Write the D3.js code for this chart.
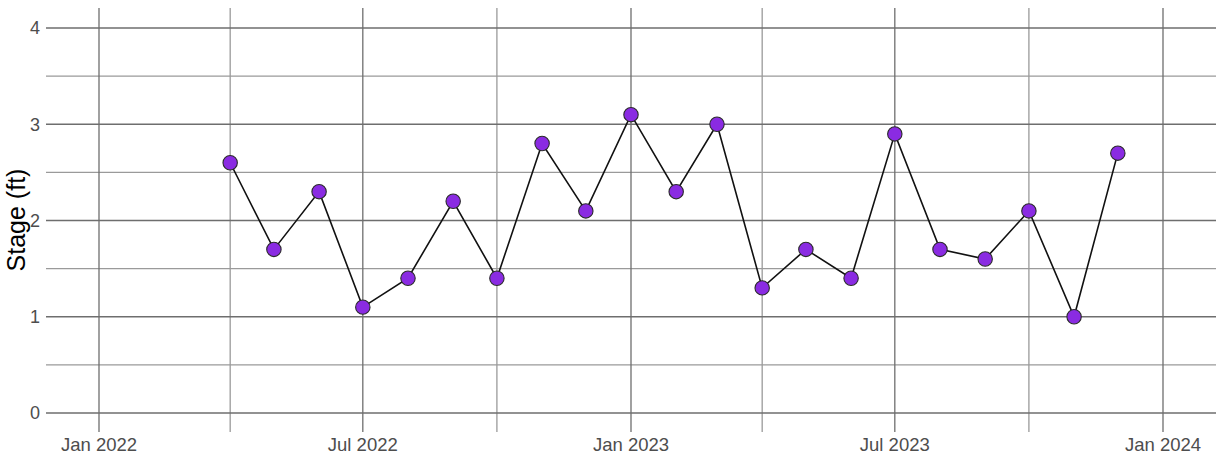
<!DOCTYPE html>
<html>
<head>
<meta charset="utf-8">
<script src="https://cdn.jsdelivr.net/npm/d3@7"></script>
<style>
html,body{margin:0;padding:0;background:#fff;}
svg{display:block;font-family:"Liberation Sans",Arial,sans-serif;}
</style>
</head>
<body>
<svg id="chart" width="1225" height="458"></svg>
<script>
// Data
const dates = ["2022-04-01","2022-05-01","2022-06-01","2022-07-01","2022-08-01","2022-09-01","2022-10-01",
  "2022-11-01","2022-12-01","2023-01-01","2023-02-01","2023-03-01","2023-04-01","2023-05-01","2023-06-01",
  "2023-07-01","2023-08-01","2023-09-01","2023-10-01","2023-11-01","2023-12-01"];
const stage = [2.6,1.7,2.3,1.1,1.4,2.2,1.4,2.8,2.1,3.1,2.3,3.0,1.3,1.7,1.4,2.9,1.7,1.6,2.1,1.0,2.7];
const yTicks = [0,1,2,3,4];
const yMinor = [0.5,1.5,2.5,3.5];
const xMajor = ["2022-01-01","2022-07-01","2023-01-01","2023-07-01","2024-01-01"];
const xMajorLabels = ["Jan 2022","Jul 2022","Jan 2023","Jul 2023","Jan 2024"];
const xMinor = ["2022-04-01","2022-10-01","2023-04-01","2023-10-01"];
const yTitle = "Stage (ft)";

const parse = d3.utcParse("%Y-%m-%d");
const data = dates.map((d,i)=>({date:parse(d), v:stage[i]}));

const svg = d3.select("#chart");
const panel = {left:46, right:1216, top:8, bottom:432};

const x = d3.scaleUtc()
  .domain([parse("2022-01-01"), parse("2024-01-01")])
  .range([99, 1163]);
const y = d3.scaleLinear().domain([0,4]).range([413,28]);

const g = svg.append("g");

// minor horizontal grid
g.selectAll(".hminor").data(yMinor).enter().append("line")
  .attr("x1",panel.left).attr("x2",panel.right)
  .attr("y1",d=>y(d)).attr("y2",d=>y(d))
  .attr("stroke","#9a9a9a").attr("stroke-width",1.3);
// minor vertical grid
g.selectAll(".vminor").data(xMinor.map(parse)).enter().append("line")
  .attr("y1",panel.top).attr("y2",panel.bottom)
  .attr("x1",d=>x(d)).attr("x2",d=>x(d))
  .attr("stroke","#9a9a9a").attr("stroke-width",1.3);
// major horizontal grid
g.selectAll(".hmajor").data(yTicks).enter().append("line")
  .attr("x1",panel.left).attr("x2",panel.right)
  .attr("y1",d=>y(d)).attr("y2",d=>y(d))
  .attr("stroke","#6e6e6e").attr("stroke-width",1.3);
// major vertical grid
g.selectAll(".vmajor").data(xMajor.map(parse)).enter().append("line")
  .attr("y1",panel.top).attr("y2",panel.bottom)
  .attr("x1",d=>x(d)).attr("x2",d=>x(d))
  .attr("stroke","#6e6e6e").attr("stroke-width",1.3);

// y tick labels
g.selectAll(".ylab").data(yTicks).enter().append("text")
  .attr("x",40).attr("y",d=>y(d)).attr("dy","0.36em")
  .attr("text-anchor","end").attr("font-size",18).attr("fill","#4d4d4d")
  .text(d=>d);
// x tick labels
g.selectAll(".xlab").data(xMajor).enter().append("text")
  .attr("x",d=>x(parse(d))).attr("y",451)
  .attr("text-anchor","middle").attr("font-size",18.5).attr("fill","#4d4d4d")
  .text((d,i)=>xMajorLabels[i]);

// y title
svg.append("text")
  .attr("transform","translate(25,220) rotate(-90)")
  .attr("text-anchor","middle").attr("font-size",25).attr("fill","#000")
  .text(yTitle);

// line
g.append("path").datum(data)
  .attr("fill","none").attr("stroke","#111").attr("stroke-width",1.6)
  .attr("d", d3.line().x(d=>x(d.date)).y(d=>y(d.v)));

// points
g.selectAll(".pt").data(data).enter().append("circle")
  .attr("cx",d=>x(d.date)).attr("cy",d=>y(d.v)).attr("r",7.2)
  .attr("fill","#8a2be2").attr("stroke","#2b2b2b").attr("stroke-width",1.1);
</script>
</body>
</html>
